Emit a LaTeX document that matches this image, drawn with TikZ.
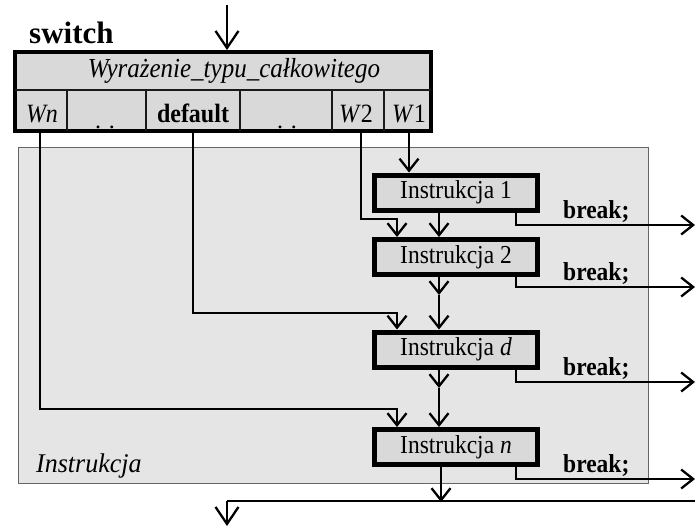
\documentclass[tikz,border=0pt]{standalone}
\usepackage{fontspec}
\setmainfont{Liberation Serif}
\usetikzlibrary{arrows.meta}
% slightly taller lettering
\newcommand{\tallt}[1]{\scalebox{1}[1.1]{#1}}
\begin{document}
\begin{tikzpicture}[x=1pt,y=-1pt,
  conn/.style={line width=2.3pt, line cap=butt, line join=miter},
  arr/.style={conn, -{Straight Barb[length=12pt,width=19pt,line width=2.3pt]}},
  bigarr/.style={conn, -{Straight Barb[length=17pt,width=23pt,line width=2.3pt]}},
  instr/.style={draw=black, line width=5pt, fill=black!15, minimum width=163pt,
    minimum height=35pt, inner sep=0pt, font=\fontsize{23.5}{27}\selectfont},
  brk/.style={font=\fontsize{23.5}{27}\selectfont\bfseries, anchor=base west, inner sep=0pt},
  cell/.style={font=\fontsize{24}{28}\selectfont, inner sep=0pt, anchor=base},
  divider/.style={line width=2.5pt, black!90}
]
\useasboundingbox (0,0) rectangle (695,528);

% block of statements
\node[draw=black!60, line width=1pt, fill=black!10, minimum width=630pt,
  minimum height=336pt, inner sep=0pt] (body) at (333,315) {};
\node[anchor=base west, inner sep=0pt, font=\fontsize{26}{30}\selectfont\itshape]
  (lbl) at (36,472) {\scalebox{1}[1.04]{Instrukcja}};

% switch header
\node[anchor=base west, inner sep=0pt, font=\fontsize{31}{36}\selectfont\bfseries]
  (sw) at (29,43) {switch};
\node[draw=black, line width=4pt, fill=black!15, minimum width=416pt,
  minimum height=79pt, inner sep=0pt] (hdr) at (223,91.5) {};
\draw[divider] (15,90) -- (431,90);
\foreach \x in {67,146,240,332,384} \draw[divider] (\x,90) -- (\x,131);
\node[inner sep=0pt, font=\fontsize{25}{29}\selectfont\itshape] (expr) at (234,71)
  {\tallt{Wyrażenie\_typu\_całkowitego}};
\node[cell, font=\fontsize{24}{28}\selectfont\itshape] (wn) at (42,122) {\tallt{Wn}};
\node[cell] (dots1) at (105,128) {. .};
\node[cell, font=\fontsize{24}{28}\selectfont\bfseries] (dflt) at (193,122) {\tallt{default}};
\node[cell] (dots2) at (287,128) {. .};
\node[cell] (w2) at (356,122) {\tallt{\textit{W}2}};
\node[cell] (w1) at (409,122) {\tallt{\textit{W}1}};

% statements
\node[instr] (i1) at (456,192.5) {\tallt{Instrukcja 1}};
\node[instr] (i2) at (456,257) {\tallt{Instrukcja 2}};
\node[instr] (id) at (456,349.5) {\tallt{Instrukcja \textit{d}}};
\node[instr] (in) at (456,447) {\tallt{Instrukcja \textit{n}}};

\node[brk] (b1) at (563,218) {\tallt{break;}};
\node[brk] (b2) at (563,280) {\tallt{break;}};
\node[brk] (bd) at (563,375) {\tallt{break;}};
\node[brk] (bn) at (563,472) {\tallt{break;}};

% taps under the case labels
\coordinate (tWn) at (40,133);
\coordinate (tD) at (193,133);
\coordinate (tW2) at (361,133);
\coordinate (tW1) at (409,133);
\coordinate (jW2) at (397,219);
\coordinate (jD) at (397,313);
\coordinate (jWn) at (397,409);
\coordinate (m2) at (439,295);
\coordinate (md) at (439,388);
\coordinate (top) at (227,5);
\coordinate (botL) at (227,501);
\coordinate (botR) at (695,501);
\coordinate (out) at (227,526);
\coordinate (e1) at (695,225);
\coordinate (e2) at (695,287);
\coordinate (ed) at (695,382);
\coordinate (en) at (695,479);

% entry
\draw[bigarr] (top) -- (top |- hdr.north);

% case branches
\draw[arr] (tW1) -- (tW1 |- i1.north);
\draw[arr] (tW2) |- (jW2) -- (jW2 |- i2.north);
\draw[arr] (tD) |- (jD) -- (jD |- id.north);
\draw[arr] (tWn) |- (jWn) -- (jWn |- in.north);

% fall-through
\draw[arr] ([xshift=-17pt]i1.south) -- ([xshift=-17pt]i2.north);
\draw[arr] ([xshift=-17pt]i2.south) -- (m2);
\draw[arr] (m2) -- (m2 |- id.north);
\draw[arr] ([xshift=-17pt]id.south) -- (md);
\draw[arr] (md) -- (md |- in.north);

% break exits
\draw[arr] ([xshift=60pt]i1.south) |- (e1);
\draw[arr] ([xshift=60pt]i2.south) |- (e2);
\draw[arr] ([xshift=60pt]id.south) |- (ed);
\draw[arr] ([xshift=60pt]in.south) |- (en);

% exit of the switch
\draw[arr] ([xshift=-15pt]in.south) -- ([xshift=-15pt,yshift=-1pt]in.south |- botR);
\draw[conn] (botR) -- (botL);
\draw[bigarr] (botL) -- (out);
\end{tikzpicture}
\end{document}
